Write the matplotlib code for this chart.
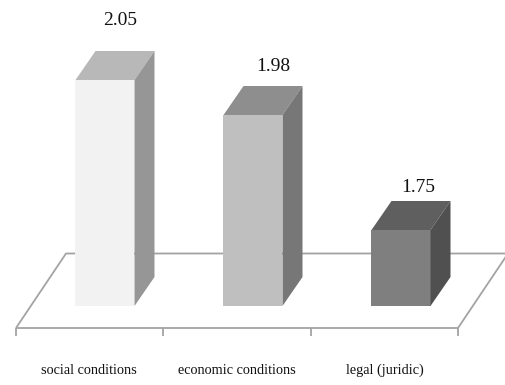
import matplotlib
matplotlib.use("Agg")
import matplotlib.pyplot as plt
from matplotlib.patches import Polygon

categories = ["social conditions", "economic conditions", "legal (juridic)"]
values = [2.05, 1.98, 1.75]
value_labels = ["2.05", "1.98", "1.75"]
front_colors = ["#f2f2f2", "#bfbfbf", "#7f7f7f"]
top_colors = ["#b8b8b8", "#8e8e8e", "#5f5f5f"]
side_colors = ["#969696", "#777777", "#505050"]
label_dx_px = [15, 20, 17]
label_dy_px = [60, 49, 42]

W, H = 506, 385
BASE = 1.598
PX_PER_VALUE = 500.0
PX_PER_CAT = 148.0
FIRST_CAT_PX = 105.0
BASE_PX = 306.0

fig = plt.figure(figsize=(W / 100, H / 100), dpi=100, facecolor="white")
ax = fig.add_axes([0, 0, 1, 1])
ax.set_xlim(-FIRST_CAT_PX / PX_PER_CAT, (W - FIRST_CAT_PX) / PX_PER_CAT)
ax.set_ylim(BASE - (H - BASE_PX) / PX_PER_VALUE, BASE + BASE_PX / PX_PER_VALUE)
ax.axis("off")

dx = 1 / PX_PER_CAT      # one pixel in category units
dy = 1 / PX_PER_VALUE    # one pixel in value units
half = 29.5 * dx
depth_x = 20 * dx
depth_y = 29 * dy

# floor
line = dict(color="#a3a3a3", lw=1.3, solid_capstyle="butt", zorder=1)
floor_front = BASE - 22 * dy
floor_back = BASE + 52.5 * dy
left = -89 * dx
right = 353 * dx
ax.plot([left, left + 50 * dx, left + 492 * dx], [floor_front, floor_back, floor_back], **line)
ax.plot([left, right, right + 50 * dx], [floor_front, floor_front, floor_back], **line)
for i in range(len(categories) + 1):
    tx = left + i * 147.3 * dx
    ax.plot([tx, tx], [floor_front, floor_front - 8 * dy], **line)

# bars
for i, v in enumerate(values):
    l, r = i - half, i + half
    ax.add_patch(Polygon([(l, BASE), (r, BASE), (r, v), (l, v)],
                         facecolor=front_colors[i], edgecolor="none", zorder=3))
    ax.add_patch(Polygon([(l, v), (r, v), (r + depth_x, v + depth_y), (l + depth_x, v + depth_y)],
                         facecolor=top_colors[i], edgecolor="none", zorder=3))
    ax.add_patch(Polygon([(r, BASE), (r + depth_x, BASE + depth_y), (r + depth_x, v + depth_y), (r, v)],
                         facecolor=side_colors[i], edgecolor="none", zorder=3))

# text
serif = "Liberation Serif"
for i, (v, lab) in enumerate(zip(values, value_labels)):
    ax.text(i + label_dx_px[i] * dx, v + label_dy_px[i] * dy, lab, family=serif, fontsize=14,
            ha="center", va="center", color="#111111", zorder=4)
for i, c in enumerate(categories):
    ax.text(i - 16.5 * dx, BASE - 64 * dy, c, family=serif, fontsize=10.3,
            ha="center", va="center", color="#111111", zorder=4)

fig.savefig("out.png", dpi=100, facecolor="white")
